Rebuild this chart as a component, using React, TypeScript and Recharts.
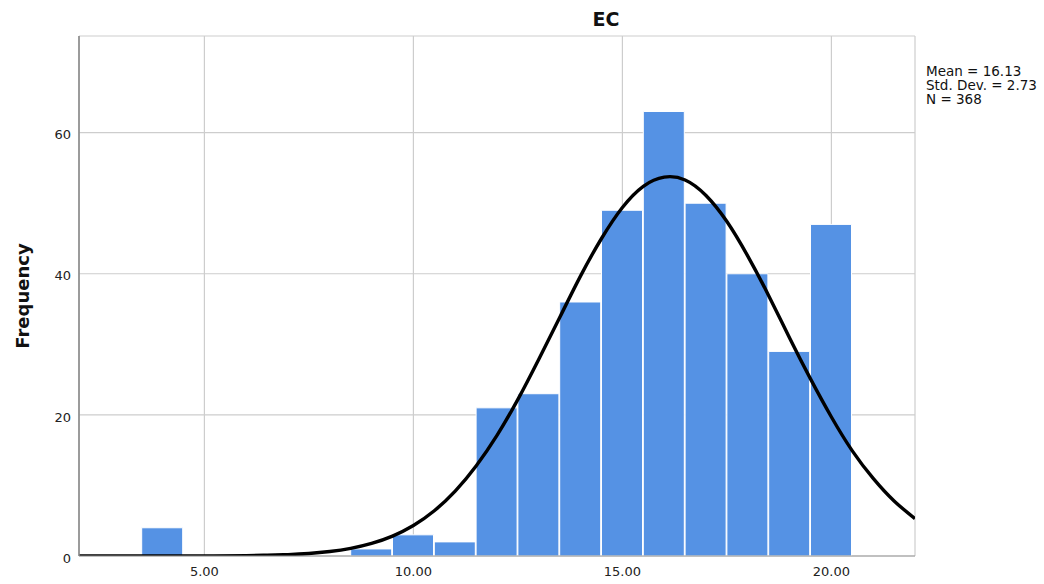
import { Bar, CartesianGrid, ComposedChart, Line, XAxis, YAxis } from "recharts";

// histogram bins (bin centre) and frequencies
const bins = [4, 9, 10, 11, 12, 13, 14, 15, 16, 17, 18, 19, 20];
const counts = [4, 1, 3, 2, 21, 23, 36, 49, 63, 50, 40, 29, 47];

// normal curve overlay, sampled along the x range
const curveX = [
  2, 3, 4, 5, 6, 6.5, 7, 7.5, 8, 8.5, 9, 9.5, 10, 10.5, 11, 11.5, 12, 12.5, 13, 13.5, 14, 14.5,
  15, 15.5, 16, 16.5, 17, 17.5, 18, 18.5, 19, 19.5, 20, 20.5, 21, 21.5, 22,
];
const curveY = [
  0, 0, 0, 0, 0.06, 0.11, 0.2, 0.36, 0.64, 1.08, 1.78, 2.82, 4.32, 6.41, 9.2, 12.76, 17.1, 22.2,
  27.9, 33.8, 39.7, 45.0, 49.4, 52.4, 53.7, 53.3, 51.1, 47.4, 42.5, 36.9, 30.9, 25.1, 19.7, 14.9,
  11.0, 7.8, 5.3,
];

const xTicks = [5, 10, 15, 20];
const yTicks = [0, 20, 40, 60];
const title = "EC";
const yLabel = "Frequency";
const stats = ["Mean = 16.13", "Std. Dev. = 2.73", "N = 368"];

const W = 1044;
const H = 584;
const font = "'DejaVu Sans', 'Liberation Sans', sans-serif";

const barData = bins.map((x, i) => ({ x, count: counts[i] }));
const curveData = curveX.map((x, i) => ({ x, density: curveY[i] }));

export default function App() {
  return (
    <div style={{ position: "absolute", left: 0, top: 0, width: W, height: H, background: "#fff" }}>
      <ComposedChart
        width={W}
        height={H}
        data={barData}
        margin={{ top: 36, right: 129, bottom: 0, left: 0 }}
      >
        <CartesianGrid stroke="#cdcdcd" strokeWidth={1.2} />
        <XAxis
          dataKey="x"
          type="number"
          domain={[2, 22]}
          ticks={xTicks}
          allowDataOverflow
          tickFormatter={(v: number) => v.toFixed(2)}
          tickLine={false}
          tickSize={0}
          tickMargin={11}
          height={28}
          axisLine={{ stroke: "#9a9a9a", strokeWidth: 1.2 }}
          tick={{ fill: "#222", fontSize: 13, fontFamily: font }}
        />
        {/* separate hidden axis so the curve samples don't narrow the bars */}
        <XAxis
          xAxisId="curve"
          dataKey="x"
          type="number"
          domain={[2, 22]}
          allowDataOverflow
          hide
          height={28}
        />
        <YAxis
          type="number"
          domain={[0, 73.7]}
          ticks={yTicks}
          allowDataOverflow
          tickLine={false}
          tickSize={0}
          tickMargin={8}
          width={79}
          axisLine={{ stroke: "#8a8a8a", strokeWidth: 1.6 }}
          tick={{ fill: "#222", fontSize: 13, fontFamily: font, dy: 2 }}
        />
        <Bar
          dataKey="count"
          fill="#5592e4"
          stroke="#ffffff"
          strokeWidth={1}
          barSize={41}
          isAnimationActive={false}
        />
        <Line
          xAxisId="curve"
          data={curveData}
          dataKey="density"
          type="natural"
          stroke="#000"
          strokeWidth={3.4}
          dot={false}
          activeDot={false}
          isAnimationActive={false}
        />
      </ComposedChart>
      <svg
        width={W}
        height={H}
        style={{ position: "absolute", left: 0, top: 0, pointerEvents: "none" }}
      >
        <text x={606} y={26} textAnchor="middle" fontFamily={font} fontWeight="bold" fontSize={19} fill="#111">
          {title}
        </text>
        <text
          x={29}
          y={296}
          transform="rotate(-90 29 296)"
          textAnchor="middle"
          fontFamily={font}
          fontWeight="bold"
          fontSize={18}
          fill="#111"
        >
          {yLabel}
        </text>
        {stats.map((s, i) => (
          <text key={s} x={926} y={76 + i * 14} fontFamily={font} fontSize={13.5} fill="#111">
            {s}
          </text>
        ))}
      </svg>
    </div>
  );
}
